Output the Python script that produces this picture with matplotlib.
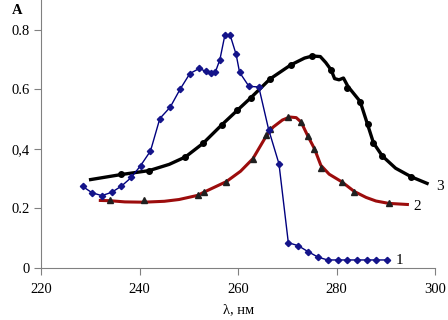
import matplotlib
matplotlib.use('Agg')
import matplotlib.pyplot as plt

plt.rcParams['font.family'] = ['Liberation Serif', 'DejaVu Serif']

# curve 1 (blue, diamonds)
x1 = [228.4, 230.3, 232.3, 234.3, 236.3, 238.3, 240.2, 242.2, 244.1, 246.2, 248.2,
      250.2, 252.1, 253.5, 254.5, 255.4, 256.3, 257.3, 258.4, 259.6, 260.3, 262.2,
      264.2, 266.2, 268.3, 270.2, 272.2, 274.2, 276.3, 278.2, 280.2, 282.1, 284.1,
      286.1, 288.1, 290.2]
y1 = [0.274, 0.253, 0.243, 0.254, 0.275, 0.304, 0.344, 0.393, 0.502, 0.540, 0.600,
      0.653, 0.670, 0.660, 0.654, 0.659, 0.700, 0.781, 0.781, 0.717, 0.657, 0.610,
      0.608, 0.465, 0.350, 0.085, 0.075, 0.055, 0.036, 0.027, 0.027, 0.027, 0.027,
      0.027, 0.027, 0.027]

# curve 2 (dark red line, black triangles)
x2_line = [231.7, 233.9, 237.0, 240.8, 245.0, 248.0, 251.8, 253.1, 257.6, 260.5, 263.0,
           265.6, 267.1, 269.0, 270.5, 271.8, 272.8, 274.2, 275.5, 276.8, 278.5, 281.1,
           283.6, 286.0, 288.0, 290.6, 294.7]
y2_line = [0.227, 0.226, 0.222, 0.221, 0.224, 0.230, 0.244, 0.255, 0.290, 0.325, 0.367,
           0.440, 0.473, 0.497, 0.507, 0.505, 0.490, 0.442, 0.401, 0.345, 0.315, 0.289,
           0.257, 0.237, 0.225, 0.217, 0.213]
x2_pts = [233.9, 240.8, 251.8, 253.1, 257.6, 263.0, 265.6, 266.4, 270.1, 272.8, 274.2,
          275.5, 276.8, 281.1, 283.6, 290.6]
y2_pts = [0.230, 0.228, 0.244, 0.255, 0.290, 0.367, 0.447, 0.468, 0.506, 0.490, 0.442,
          0.401, 0.337, 0.289, 0.256, 0.217]

# curve 3 (black line, black circles)
x3_line = [229.7, 236.3, 241.9, 246.0, 249.3, 252.9, 256.7, 259.8, 262.6, 266.5, 270.7,
           273.5, 275.1, 276.7, 277.8, 278.9, 279.6, 280.5, 281.4, 282.3, 284.8, 286.3,
           287.5, 289.3, 292.0, 295.2, 298.7]
y3_line = [0.296, 0.314, 0.327, 0.348, 0.373, 0.419, 0.481, 0.529, 0.572, 0.635, 0.682,
           0.705, 0.712, 0.710, 0.690, 0.665, 0.636, 0.632, 0.638, 0.610, 0.559, 0.482,
           0.420, 0.376, 0.335, 0.306, 0.282]
x3_pts = [236.3, 241.9, 249.3, 252.9, 256.7, 259.8, 262.6, 266.5, 270.7, 275.1, 278.9,
          282.1, 284.8, 286.3, 287.5, 289.3, 295.2]
y3_pts = [0.314, 0.327, 0.373, 0.419, 0.481, 0.529, 0.572, 0.635, 0.682, 0.712, 0.665,
          0.605, 0.559, 0.482, 0.420, 0.376, 0.306]

curve_labels = ['1', '2', '3']
label_pos = [(292.1, 0.025), (295.7, 0.205), (300.3, 0.275)]

y_ticks = [0, 0.2, 0.4, 0.6, 0.8]
y_ticklabels = ['0', '0.2', '0,4', '0.6', '0.8']
x_ticks = [220, 240, 260, 280, 300]

fig = plt.figure(figsize=(4.48, 3.2), dpi=100)
ax = fig.add_axes([0.092, 0.1625, 0.879, 0.8375])

ax.plot(x3_line, y3_line, color='black', lw=2.4, solid_capstyle='butt', zorder=2)
ax.plot(x3_pts, y3_pts, 'o', color='black', ms=4, zorder=3)

ax.plot(x2_line, y2_line, color='#9c0c0c', lw=2.2, solid_capstyle='butt', zorder=2)
ax.plot(x2_pts, y2_pts, '^', color='#202020', ms=4.5, zorder=3)

ax.plot(x1, y1, color='#00007f', lw=1, marker='D', ms=3.2, mfc='#14148a',
        mec='#14148a', zorder=4)

for lab, (lx, ly) in zip(curve_labels, label_pos):
    ax.text(lx, ly, lab, fontsize=11, ha='left', va='center', clip_on=False)

ax.set_xlim(220, 300)
ax.set_ylim(0, 0.9)
ax.set_xticks(x_ticks)
ax.set_yticks(y_ticks)
ax.set_yticklabels(y_ticklabels)
ax.tick_params(labelsize=10.5, color='#808080', length=5, width=0.8)
ax.tick_params(axis='x', pad=6)
for s in ['top', 'right']:
    ax.spines[s].set_visible(False)
for s in ['left', 'bottom']:
    ax.spines[s].set_color('#808080')
    ax.spines[s].set_linewidth(0.8)

ax.set_xlabel('λ, нм', fontsize=10.5, labelpad=5)
fig.text(0.027, 0.968, 'A', fontsize=10.5, fontweight='bold', ha='left', va='center')

fig.savefig('out.png', dpi=100)
